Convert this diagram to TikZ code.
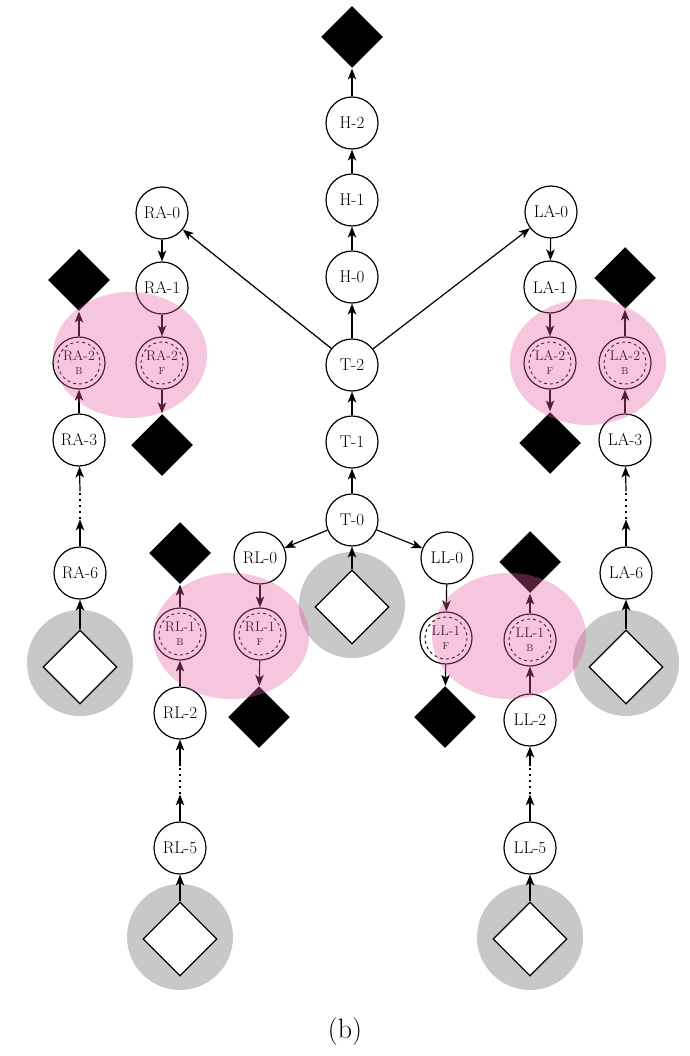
\documentclass[tikz,border=0pt]{standalone}
\usepackage{tikz}
\usepackage{xcolor}
\usetikzlibrary{arrows.meta,shapes.geometric}
\definecolor{ShadeGray}{HTML}{C8C8C8}
\definecolor{FoldPink}{RGB}{229,92,161}

\begin{document}
\begin{tikzpicture}[x=1pt,y=-1pt,line width=1.2pt,
          jt/.style={circle,draw,fill=white,minimum size=52pt,inner sep=0pt,
                     font=\fontsize{17}{18}\selectfont},
          fb/.style={jt,align=center,font=\fontsize{14}{14}\selectfont},
          ed/.style={diamond,fill=black,minimum size=62pt,inner sep=0pt},
          rt/.style={diamond,draw,fill=white,minimum size=74pt,inner sep=0pt},
          ar/.style={-{Stealth[length=11pt,width=8.5pt,inset=3pt]}}]
        \useasboundingbox (0,0) rectangle (689,1056);
        % root discs
        \foreach \p in {(352,605),(80,663),(626,663),(180,937),(530,937)}
          \fill[ShadeGray] \p circle[radius=53];
        % head and torso
        \node[ed] (HD) at (352,37)  {};
        \node[jt] (H2) at (352,123) {H-2};
        \node[jt] (H1) at (352,200) {H-1};
        \node[jt] (H0) at (352,277) {H-0};
        \node[jt] (T2) at (352,365) {T-2};
        \node[jt] (T1) at (352,442) {T-1};
        \node[jt] (T0) at (352,520) {T-0};
        \node[rt] (TR) at (352,607) {};
        % right arm
        \node[jt] (RA0)  at (162,213) {RA-0};
        \node[jt] (RA1)  at (162,288) {RA-1};
        \node[fb] (RA2F) at (162,363) {RA-2\\{\fontsize{10}{10}\selectfont F}};
        \node[ed] (RAFd) at (162,445) {};
        \node[ed] (RABd) at (79,280)  {};
        \node[fb] (RA2B) at (79,363)  {RA-2\\{\fontsize{10}{10}\selectfont B}};
        \node[jt] (RA3)  at (79,440)  {RA-3};
        \node[jt] (RA6)  at (80,573)  {RA-6};
        \node[rt] (RAR)  at (80,667)  {};
        % left arm
        \node[jt] (LA0)  at (551,212) {LA-0};
        \node[jt] (LA1)  at (550,287) {LA-1};
        \node[fb] (LA2F) at (550,363) {LA-2\\{\fontsize{10}{10}\selectfont F}};
        \node[ed] (LAFd) at (550,443) {};
        \node[ed] (LABd) at (625,278) {};
        \node[fb] (LA2B) at (625,363) {LA-2\\{\fontsize{10}{10}\selectfont B}};
        \node[jt] (LA3)  at (625,440) {LA-3};
        \node[jt] (LA6)  at (626,573) {LA-6};
        \node[rt] (LAR)  at (626,667) {};
        % right leg
        \node[jt] (RL0)  at (260,558) {RL-0};
        \node[fb] (RL1F) at (260,634) {RL-1\\{\fontsize{10}{10}\selectfont F}};
        \node[ed] (RLFd) at (259,717) {};
        \node[ed] (RLBd) at (180,553) {};
        \node[fb] (RL1B) at (180,634) {RL-1\\{\fontsize{10}{10}\selectfont B}};
        \node[jt] (RL2)  at (180,713) {RL-2};
        \node[jt] (RL5)  at (180,848) {RL-5};
        \node[rt] (RLR)  at (180,939) {};
        % left leg
        \node[jt] (LL0)  at (447,558) {LL-0};
        \node[fb] (LL1F) at (446,638) {LL-1\\{\fontsize{10}{10}\selectfont F}};
        \node[ed] (LLFd) at (445,717) {};
        \node[ed] (LLBd) at (530,562) {};
        \node[fb] (LL1B) at (530,640) {LL-1\\{\fontsize{10}{10}\selectfont B}};
        \node[jt] (LL2)  at (530,720) {LL-2};
        \node[jt] (LL5)  at (530,848) {LL-5};
        \node[rt] (LLR)  at (530,939) {};
        \node (cap) at (345,1032) {\fontsize{28}{30}\selectfont (b)};
        % inner rings of the split joints
        \foreach \n in {RA2B,RA2F,LA2B,LA2F,RL1B,RL1F,LL1B,LL1F}
          \draw[dashed,line width=0.9pt] (\n) circle[radius=21];
        % edges
        \foreach \a/\b in {H2/HD,H1/H2,H0/H1,T2/H0,T1/T2,T0/T1,TR/T0,
                           T2/RA0,T2/LA0,T0/RL0,T0/LL0,
                           RA0/RA1,RA1/RA2F,RA2F/RAFd,RA3/RA2B,RA2B/RABd,RAR/RA6,
                           LA0/LA1,LA1/LA2F,LA2F/LAFd,LA3/LA2B,LA2B/LABd,LAR/LA6,
                           RL0/RL1F,RL1F/RLFd,RL2/RL1B,RL1B/RLBd,RLR/RL5,
                           LL0/LL1F,LL1F/LLFd,LL2/LL1B,LL1B/LLBd,LLR/LL5}
          \draw[ar] (\a) -- (\b);
        % skipped joints
        \foreach \lo/\up in {RA6/RA3,LA6/LA3,RL5/RL2,LL5/LL2}{
          \draw[ar] (\lo.north) -- ++(0,-27) coordinate (\lo-a);
          \draw[line width=1.6pt,dash pattern=on 2pt off 4pt] (\lo-a) -- ++(0,-28) coordinate (\up-a);
          \draw[ar] (\up-a) -- (\up);
        }
        % folded groups
        \foreach \p/\rx in {(130,355)/77,(588,362)/78,(231,636)/78,(509,636)/77}
          \fill[FoldPink,fill opacity=0.35] \p ellipse[x radius=\rx,y radius=63];
      \end{tikzpicture}
\end{document}
